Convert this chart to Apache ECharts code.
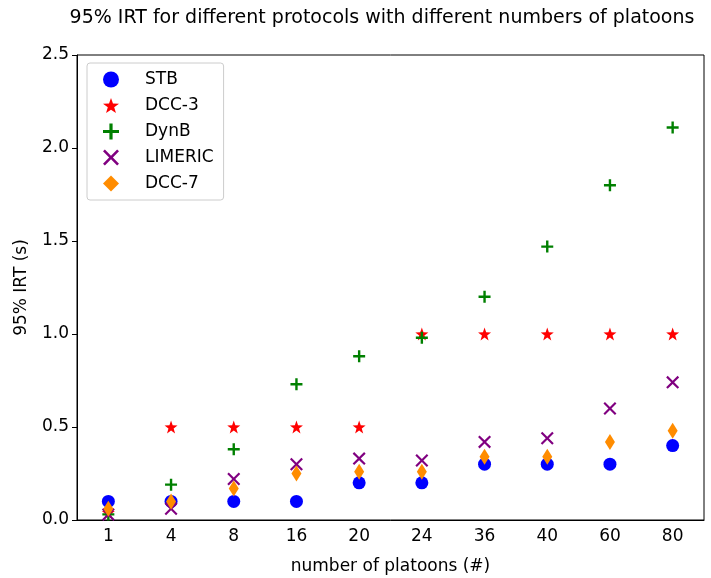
<!DOCTYPE html>
<html>
<head>
<meta charset="utf-8">
<script src="https://cdn.jsdelivr.net/npm/echarts@6/dist/echarts.min.js"></script>
<style>
  html, body { margin: 0; padding: 0; background: #fff; }
  #main { width: 711px; height: 578px; }
</style>
</head>
<body>
<div id="main"></div>
<script>
  // x categories and values
  var platoons = ['1', '4', '8', '16', '20', '24', '36', '40', '60', '80'];
  var stb     = [0.10, 0.10, 0.10, 0.10, 0.20, 0.20, 0.30, 0.30, 0.30, 0.40];
  var dcc3    = [0.04, 0.50, 0.50, 0.50, 0.50, 1.00, 1.00, 1.00, 1.00, 1.00];
  var dynb    = [0.03, 0.19, 0.38, 0.73, 0.88, 0.98, 1.20, 1.47, 1.80, 2.11];
  var limeric = [0.03, 0.06, 0.22, 0.30, 0.33, 0.32, 0.42, 0.44, 0.60, 0.74];
  var dcc7    = [0.06, 0.10, 0.17, 0.25, 0.26, 0.26, 0.34, 0.34, 0.42, 0.48];

  var starPath = 'path://M0,-10L2.35,-3.24L9.51,-3.09L3.8,1.24L5.88,8.09L0,4L-5.88,8.09L-3.8,1.24L-9.51,-3.09L-2.35,-3.24Z';
  var plusPath = 'path://M-1.2,-6H1.2V-1.2H6V1.2H1.2V6H-1.2V1.2H-6V-1.2H-1.2Z';
  var xPath = 'path://M-6,-4.6L-4.6,-6L0,-1.4L4.6,-6L6,-4.6L1.4,0L6,4.6L4.6,6L0,1.4L-4.6,6L-6,4.6L-1.4,0Z';

  var myChart = echarts.init(document.getElementById('main'));
  var font = 'DejaVu Sans';

  function scatter(name, data, symbol, size, color) {
    return {
      name: name,
      type: 'scatter',
      data: data,
      symbol: symbol,
      symbolSize: size,
      itemStyle: { color: color, opacity: 1 },
      emphasis: { disabled: true }
    };
  }

  var option = {
    animation: false,
    textStyle: { fontFamily: font },
    title: {
      text: '95% IRT for different protocols with different numbers of platoons',
      left: 377,
      textAlign: 'center',
      top: 4,
      textStyle: { fontFamily: font, fontSize: 19, fontWeight: 'normal', color: '#000' }
    },
    legend: {
      orient: 'vertical',
      left: 87,
      top: 63,
      padding: [8, 10, 8, 16],
      itemGap: 9,
      itemWidth: 16,
      itemHeight: 16,
      borderColor: '#ccc',
      borderWidth: 1,
      borderRadius: 3,
      backgroundColor: '#fff',
      textStyle: { fontFamily: font, fontSize: 17, color: '#000', padding: [0, 0, 0, 21] },
      data: ['STB', 'DCC-3', 'DynB', 'LIMERIC', 'DCC-7']
    },
    grid: {
      left: 77, right: 7, top: 55, bottom: 58,
      outerBoundsMode: 'none',
      show: true, borderColor: '#000', borderWidth: 1, backgroundColor: 'transparent'
    },
    xAxis: {
      type: 'category',
      data: platoons,
      boundaryGap: true,
      name: 'number of platoons (#)',
      nameLocation: 'middle',
      nameGap: 38,
      nameTextStyle: { fontFamily: font, fontSize: 17, color: '#000' },
      axisLine: { lineStyle: { color: '#000' } },
      axisTick: { alignWithLabel: true, length: 5, lineStyle: { color: '#000' } },
      axisLabel: { fontFamily: font, fontSize: 17, color: '#000', margin: 8 },
      splitLine: { show: false }
    },
    yAxis: {
      type: 'value',
      min: 0,
      max: 2.5,
      interval: 0.5,
      name: '95% IRT (s)',
      nameLocation: 'middle',
      nameGap: 47,
      nameTextStyle: { fontFamily: font, fontSize: 17, color: '#000' },
      axisLine: { show: true, lineStyle: { color: '#000' } },
      axisTick: { show: true, length: 5, lineStyle: { color: '#000' } },
      axisLabel: {
        fontFamily: font, fontSize: 17, color: '#000', margin: 8,
        formatter: function (v) { return v.toFixed(1); }
      },
      splitLine: { show: false }
    },
    series: [
      scatter('STB', stb, 'circle', 13, '#0000ff'),
      scatter('DCC-3', dcc3, starPath, 13, '#ff0000'),
      scatter('DynB', dynb, plusPath, 12, '#008000'),
      scatter('LIMERIC', limeric, xPath, 13, '#800080'),
      scatter('DCC-7', dcc7, 'diamond', [10, 16], '#ff8c00')
    ]
  };

  myChart.setOption(option);
</script>
</body>
</html>
